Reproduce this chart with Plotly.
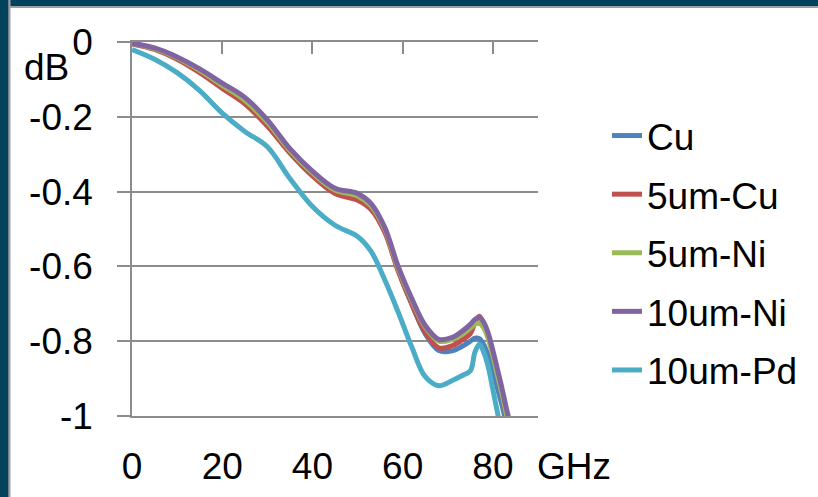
import plotly.graph_objects as go

# ---- data (GHz, dB) ----
freq = [0, 5, 10, 15, 20, 25, 30, 35, 40, 45, 50, 53, 56, 59, 62, 65, 68, 71, 73, 75, 76, 77, 78, 79, 80, 81, 82, 83, 84]
cu   = [-0.004, -0.018, -0.042, -0.077, -0.117, -0.158, -0.218, -0.292, -0.352, -0.398, -0.415, -0.440, -0.502, -0.610, -0.700, -0.780, -0.825, -0.826, -0.815, -0.800, -0.792, -0.793, -0.810, -0.840, -0.880, -0.925, -0.970, -1.020, -1.070]
cu5  = [-0.005, -0.020, -0.046, -0.082, -0.124, -0.165, -0.225, -0.297, -0.358, -0.405, -0.423, -0.448, -0.508, -0.612, -0.700, -0.776, -0.818, -0.812, -0.798, -0.780, -0.750, -0.733, -0.755, -0.790, -0.835, -0.885, -0.940, -1.000, -1.050]
ni5  = [-0.004, -0.018, -0.042, -0.076, -0.116, -0.156, -0.215, -0.290, -0.350, -0.396, -0.412, -0.438, -0.500, -0.605, -0.690, -0.762, -0.800, -0.795, -0.783, -0.765, -0.755, -0.752, -0.765, -0.795, -0.840, -0.890, -0.940, -0.995, -1.045]
ni10 = [-0.003, -0.016, -0.040, -0.072, -0.110, -0.148, -0.208, -0.285, -0.345, -0.391, -0.405, -0.432, -0.495, -0.600, -0.685, -0.758, -0.795, -0.790, -0.775, -0.755, -0.742, -0.737, -0.750, -0.780, -0.825, -0.875, -0.925, -0.980, -1.030]
pd10 = [-0.020, -0.046, -0.082, -0.130, -0.190, -0.239, -0.280, -0.365, -0.440, -0.490, -0.520, -0.560, -0.635, -0.722, -0.815, -0.895, -0.919, -0.905, -0.893, -0.879, -0.830, -0.808, -0.830, -0.870, -0.930, -0.990, -1.050, -1.110, -1.170]

series_names = ["Cu", "5um-Cu", "5um-Ni", "10um-Ni", "10um-Pd"]
series_vals = [cu, cu5, ni5, ni10, pd10]
colors = ["#4F81BD", "#C0504D", "#9BBB59", "#8064A2", "#4BACC6"]

y_ticks = [0, -0.2, -0.4, -0.6, -0.8, -1]
y_tick_text = ["0", "-0.2", "-0.4", "-0.6", "-0.8", "-1"]
x_ticks = [0, 20, 40, 60, 80]
x_tick_text = ["0", "20", "40", "60", "80"]

W, H = 818, 497
L, R, T, B = 132, 280, 42, 81
PW, PH = W - L - R, H - T - B

def px(xp):
    return (xp - L) / PW

def py(yp):
    return (H - B - yp) / PH

FONT = "Liberation Sans, Arial, sans-serif"
FS = 37
GRID = "#8C8C8C"

fig = go.Figure()
for i, (n, v) in enumerate(zip(series_names, series_vals)):
    fig.add_trace(go.Scatter(
        x=freq, y=v, mode="lines", name=n,
        line=dict(color=colors[i], width=5, shape="spline", smoothing=1.0),
        legendgroup=n,
    ))
# empty trace to carry the top tick axis
fig.add_trace(go.Scatter(x=[], y=[], xaxis="x2", showlegend=False, hoverinfo="skip"))

fig.update_layout(
    width=W, height=H,
    margin=dict(l=L, r=R, t=T, b=B, pad=0, autoexpand=False),
    paper_bgcolor="white", plot_bgcolor="white",
    font=dict(family=FONT, size=FS, color="black"),
    showlegend=True,
    legend=dict(x=px(607), xanchor="left", y=py(105), yanchor="top",
                font=dict(family=FONT, size=FS, color="black"),
                bgcolor="rgba(0,0,0,0)", tracegroupgap=7.5,
                itemwidth=30),
    xaxis=dict(range=[0, 90], tickvals=x_ticks, ticktext=x_tick_text,
               ticks="", showgrid=False, zeroline=False,
               showline=True, linecolor=GRID, linewidth=1.5,
               ticklabelstandoff=17, tickfont=dict(size=FS)),
    xaxis2=dict(range=[0, 90], overlaying="x", side="top", anchor="y",
                tickvals=x_ticks, ticks="inside", ticklen=12, tickwidth=1.5,
                tickcolor=GRID, showticklabels=False, showgrid=False,
                zeroline=False, showline=True, linecolor=GRID, linewidth=1.5),
    yaxis=dict(range=[-1, 0], tickvals=y_ticks, ticktext=y_tick_text,
               ticks="outside", ticklen=13, tickwidth=1.5, tickcolor=GRID,
               showgrid=True, gridcolor=GRID, gridwidth=1.5, zeroline=False,
               showline=True, linecolor=GRID, linewidth=1.5,
               ticklabelstandoff=17, tickfont=dict(size=FS)),
    annotations=[
        dict(text="dB", xref="paper", yref="paper", x=px(46), y=py(68),
             xanchor="center", yanchor="middle", showarrow=False,
             font=dict(family=FONT, size=FS, color="black")),
        dict(text="GHz", xref="paper", yref="paper", x=px(535), y=py(466),
             xanchor="left", yanchor="middle", showarrow=False,
             font=dict(family=FONT, size=FS, color="black")),
    ],
    shapes=[
        dict(type="rect", xref="paper", yref="paper", x0=px(0), x1=px(W), y0=py(0), y1=py(8),
             fillcolor="#A0A0A0", line=dict(width=0), layer="above"),
        dict(type="rect", xref="paper", yref="paper", x0=px(0), x1=px(W), y0=py(0), y1=py(6),
             fillcolor="#02425C", line=dict(width=0), layer="above"),
        dict(type="rect", xref="paper", yref="paper", x0=px(0), x1=px(10.5), y0=py(0), y1=py(H),
             fillcolor="#A0A0A0", line=dict(width=0), layer="above"),
        dict(type="rect", xref="paper", yref="paper", x0=px(0), x1=px(8.3), y0=py(0), y1=py(H),
             fillcolor="#02425C", line=dict(width=0), layer="above"),
    ],
)

fig.write_html("out.html")
